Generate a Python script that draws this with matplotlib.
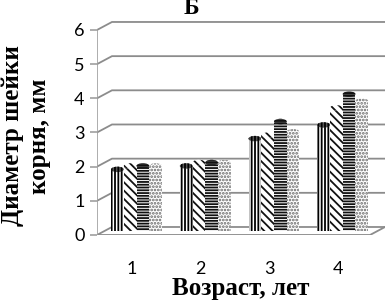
import matplotlib.pyplot as plt
from matplotlib.patches import Ellipse

ages = [1, 2, 3, 4]
tick_labels = ["1", "2", "3", "4"]
s1 = [1.8, 1.9, 2.7, 3.1]
s2 = [1.9, 2.0, 2.8, 3.6]
s3 = [1.9, 2.0, 3.2, 4.0]
s4 = [1.9, 2.0, 2.9, 3.8]
series = [s1, s2, s3, s4]
yticks = [0, 1, 2, 3, 4, 5, 6]

hatches = ["|||||", "\\\\\\\\", "------", "....."]
edges = ["#000000", "#111111", "#111111", "#666666"]
tops = ["#555555", "white", "#444444", "white"]

plt.rcParams["hatch.linewidth"] = 1.3

fig = plt.figure(figsize=(3.9, 3.02), dpi=100)
ax = fig.add_axes([0.2487, 0.2219, 0.7385, 0.7241])
ax.set_xlim(0.49, 4.68)
ax.set_ylim(0, 6.4)

# pseudo 3d walls
dx, dy = 0.218, 0.234
x0, x1 = 0.49, 4.68
grid = "#8c8c8c"
for v in yticks:
    ax.plot([x0, x0 + dx, x1], [v, v + dy, v + dy], color=grid, lw=1.3,
            solid_joinstyle="miter", zorder=1)
ax.plot([x0, x1 - dx, x1], [0, 0, dy], color=grid, lw=1.3, zorder=1)
ax.plot([x0, x0], [0, 6], color="#a0a0a0", lw=1.2, zorder=1)

w = 0.185
base = 0.12
for i, vals in enumerate(series):
    xs = [a + 0.065 + (i - 1.5) * w for a in ages]
    ax.bar(xs, vals, width=w, bottom=base, color="white", edgecolor=edges[i],
           hatch=hatches[i], linewidth=0, zorder=3 + i)
    for x, v in zip(xs, vals):
        ax.add_patch(Ellipse((x, v + base), w, 0.16, facecolor=tops[i],
                             edgecolor=edges[i], hatch=hatches[i], lw=0,
                             zorder=3 + i))

for s in ax.spines.values():
    s.set_visible(False)
ax.set_yticks(yticks)
ax.set_yticklabels([str(t) for t in yticks], family="Lato", fontsize=13)
ax.tick_params(axis="y", length=5, width=1.2, color="#a0a0a0", pad=4)
ax.set_xticks(ages)
ax.set_xticklabels(tick_labels, family="Lato", fontsize=13)
ax.tick_params(axis="x", length=0, pad=19)

serif = "Liberation Serif"
ax.set_xlabel("Возраст, лет", family=serif, fontweight="bold", fontsize=18,
              labelpad=0)
fig.text(0.066, 0.55, "Диаметр шейки\nкорня, мм", family=serif,
         fontweight="bold", fontsize=18, rotation=90, ha="center",
         va="center", multialignment="center", linespacing=1.2)
fig.text(0.492, 0.952, "Б", family=serif, fontweight="bold", fontsize=17,
         ha="center", va="baseline")

fig.savefig("out.png", dpi=100)
